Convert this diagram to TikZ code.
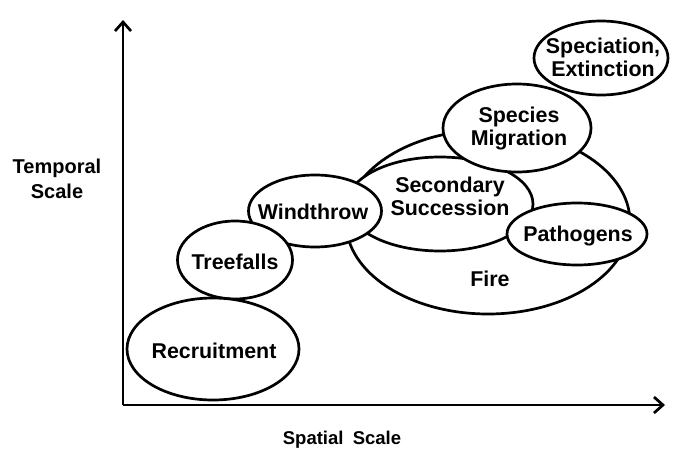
\documentclass[tikz,border=0pt]{standalone}
\usepackage{fontspec}
\setmainfont{Liberation Sans}
\usetikzlibrary{shapes.geometric,arrows.meta}
\tikzset{
  ell/.style={ellipse, draw, line width=2.7pt, fill=white, inner sep=0pt},
  lbl/.style={align=center, inner sep=0pt, font=\fontsize{21.4}{23}\selectfont\bfseries},
  axlbl/.style={align=center, inner sep=0pt, font=\fontsize{20}{25}\selectfont\bfseries},
  axis/.style={line width=2.7pt, -{Straight Barb[length=9pt,width=16pt,line width=2.7pt]}}
}
\begin{document}
\begin{tikzpicture}[x=1pt,y=-1pt]
\useasboundingbox (0,0) rectangle (675,450);
% axes
\coordinate (o) at (123,405);
\coordinate (ytip) at (123,20);
\coordinate (xtip) at (665,405);
\draw[axis] (o) -- (ytip);
\draw[axis] (o) -- (xtip);
\node[axlbl] (tlab) at (57,179) {Temporal\\Scale};
\node[axlbl, font=\fontsize{18.5}{22}\selectfont\bfseries] (slab) at (342,440) {Spatial\hspace{0.5em}Scale};
% ellipses, bottom to top
\node[ell, minimum width=284pt, minimum height=184pt] (fire) at (488,222) {};
\node[lbl] (firetxt) at (490,279) {Fire};
\node[ell, minimum width=186pt, minimum height=94pt] (ss) at (440,204) {};
\node[lbl] (sstxt) at (450,196) {Secondary\\Succession};
\node[ell, minimum width=148pt, minimum height=88pt] (sm) at (517,128) {};
\node[lbl] (smtxt) at (519,129) {Species\\Migration};
\node[ell, minimum width=140pt, minimum height=62pt] (path) at (577,234) {};
\node[lbl] (pathtxt) at (578,236) {Pathogens};
\node[ell, minimum width=133pt, minimum height=72pt] (wind) at (315,211) {};
\node[lbl] (windtxt) at (313,212) {Windthrow};
\node[ell, minimum width=115pt, minimum height=78pt] (tree) at (235,260) {};
\node[lbl] (treetxt) at (235,262) {Treefalls};
\node[ell, minimum width=172pt, minimum height=102pt] (rec) at (213,349) {};
\node[lbl] (rectxt) at (214,351) {Recruitment};
\node[ell, minimum width=134pt, minimum height=74pt] (spec) at (601,58) {};
\node[lbl] (spectxt) at (603,57) {Speciation,\\Extinction};
\end{tikzpicture}
\end{document}
